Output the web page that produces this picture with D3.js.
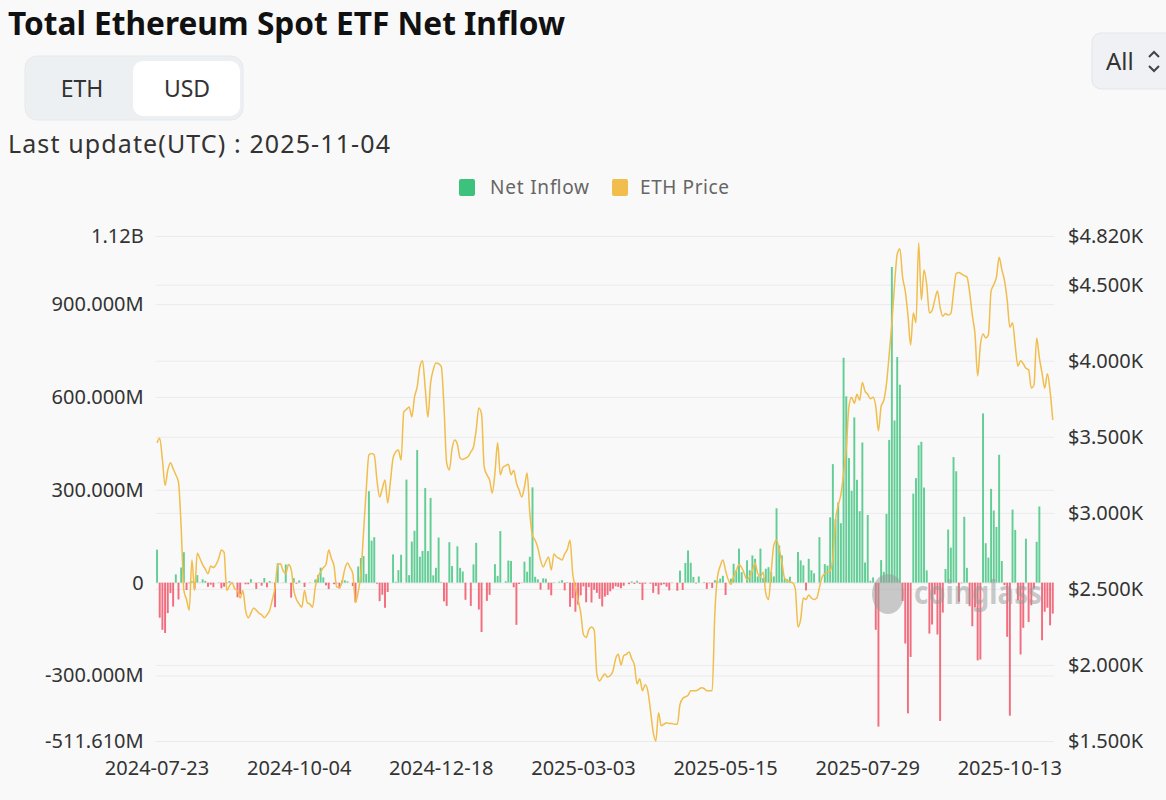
<!DOCTYPE html>
<html>
<head>
<meta charset="utf-8">
<script src="https://cdn.jsdelivr.net/npm/d3@7"></script>
<style>
  body { margin: 0; background: #f9f9f9; }
  svg { display: block; font-family: "Noto Sans", sans-serif; }
</style>
</head>
<body>
<svg width="1166" height="800"></svg>
<script>
  // trading days shown on the axis (weekdays, one day missing in the source)
  const startDate = "2024-07-23";
  const endDate = "2025-11-04";
  const skippedDays = ["2025-09-01"];

  // daily net inflow, million USD
  const inflow2024 = [
    106.6, -113.3, -152.3, -162.7, -98.3, -33.7, -77.2,
    26.7, -54.3, 48.8, 98.4, -23.7, -2.0, 4.8, -19.5, 24.3, -0.7, 10.8, 5.8, -13.5, -6.5, -15.0, 0, -1.2, -18.0, -13.0, -1.8, 5.2, -1.8,
    0, -47.4, -37.5, -0.2, -5.2, -5.2, 11.4, -0.5, -20.1, 1.5, -9.8, 15.1, -15.1, 5.2, -0.9, -79.3, 62.5, 0, 0.8, 58.7, 0,
    -48.5, 14.5, -3.2, 7.4, 0, -14, 0, -1, 0, 10, 24.2, 48.4, 17, -8.8, -20.8, 0, -5, -2, -19, 7.6, 7.6, 4.4, 0,
    -10.9, -63.2, 52.3, 79.7, 85.9, 28.1, 295.5, 135.9, 146.9, -3.2, -59.8, -39.1, -81.2, -30.3, 0, 91.2, 2.8, 40.4, 90.1, 0, 332.9,
    24.2, 132.6, 167.7, 428.5, 83.8, 102.1, 305.7, 102, 273.7, 23.6, 48, 145.7, 2.5, -60.5, -75.1, 130.8, 53.6, 0, 117.2, 47.8, 36.1, -55.4
  ];
  const inflow2025 = [
    0, -75.1, 58.9, 128.7, -86.8, -159.4, 0, -59, -39.4, 0, 59.8, 22, 166.6, 0, 4.8, 71.3, 70, -15, -136.2, -4.3, -1, 67.7, 35.3,
    83.5, 307.8, 18.9, 10.7, -22.7, 14, 12.6, -22.5, -41, 1.6, 0, 3.4, 8, -25, 2, -78, -50, -94, -71, -41,
    -12.1, -63.3, -14.6, -64, -23, -33, -52, -77, -45, -40, -28, -20, -12, -14, -18, -10, 0, -5, 4, -4, 6,
    -3.6, -56, -3, 0, -3, -33, -11, -38, -8, -5, -13, -25, -1, 0, -26, 38.8, -23.6, 63.5, 104.1, 64.1, 18.4, -2.3,
    20, 0, 2, -20, -2, -17, 8, 5, 13, 22, -40, 0, 13, 61, 40, 110, 34, 0, 72, 40, 88, 77,
    20, 110, 15, 45, 50, 34, 20, 240.3, 120, 88, 13, 11, 19, 0, 1, 99, 72, 56, -25, 77, 40,
    30, 0, 147, 0, 60, 55, 211, 383, 205, 259, 192, 726.6, 602, 402.5, 296.6, 533.9, 332.2, 231, 452.8, 65, 218.6, 5.8, 17,
    -152.3, -465.1, 73, 35, 222.3, 461.2, 1020, 523.9, 729.1, 639.6, -59.3, -196.6, -422.2, -240.1, 287.6, 337.7, 443.9, 455, 307.2, 39.7, -164.6,
    -135.3, -38.2, -167.4, -446.8, -96.7, 44.2, 171.5, 113.1, 405.6, 359.7, -61.7, -1.9, 213, 47.8, -76, -140.8, -79.4, -251.2, -248.4, 546.9, 127.5,
    80.9, 303, 233, 180, 413, 70, -8, -175, -430, 236, 170, -57, -232, -146, 142, -127, -73, -19, 132, 246, -186, -94, -81,
    -138, -100
  ];

  // ETH price, USD
  const price2024 = [
    3460, 3490, 3350, 3180, 3280, 3330, 3290,
    3250, 3200, 2900, 2490, 2430, 2360, 2690, 2490, 2735, 2700, 2660, 2630, 2600, 2650, 2640, 2660, 2700, 2755, 2740, 2490, 2520, 2540,
    2500, 2490, 2440, 2490, 2360, 2310, 2340, 2375, 2360, 2340, 2330, 2310, 2330, 2360, 2430, 2510, 2660, 2665, 2620, 2600, 2660,
    2630, 2490, 2430, 2400, 2380, 2490, 2410, 2400, 2380, 2510, 2580, 2610, 2640, 2660, 2755, 2700, 2650, 2510, 2510, 2545, 2630, 2670, 2640,
    2600, 2410, 2480, 2600, 2870, 3150, 3380, 3390, 3380, 3216, 3104, 3160, 3216, 3065, 3200, 3360, 3400, 3413, 3347, 3663, 3680,
    3696, 3630, 3760, 3828, 3960, 4000, 3820, 3630, 3853, 3940, 3985, 3980, 3960, 3696, 3328, 3282, 3420, 3479, 3450, 3360, 3350, 3360
  ];
  const price2025 = [
    3370, 3400, 3433, 3545, 3690, 3650, 3300, 3250, 3216, 3130, 3262, 3460, 3250, 3300, 3310, 3320, 3250, 3280, 3196, 3150, 3104, 3170, 3262,
    3000, 2850, 2820, 2770, 2690, 2644, 2680, 2710, 2624, 2730, 2710, 2700, 2690, 2730, 2760, 2820, 2600, 2512, 2427, 2340,
    2200, 2180, 2230, 2250, 2230, 1940, 1895, 1920, 1940, 1920, 1930, 1960, 2040, 2070, 2000, 2060, 2070, 2085, 2040, 2000, 1875,
    1910, 1830, 1870, 1830, 1700, 1560, 1500, 1685, 1600, 1610, 1620, 1615, 1615, 1610, 1610, 1740, 1780, 1790, 1800, 1830, 1830, 1830,
    1840, 1850, 1845, 1830, 1830, 1830, 2340, 2580, 2650, 2690, 2620, 2560, 2530, 2580, 2620, 2660, 2640, 2600, 2560, 2580, 2620, 2670,
    2600, 2580, 2610, 2470, 2430, 2610, 2789, 2820, 2760, 2677, 2570, 2555, 2545, 2540, 2500, 2250, 2300, 2440, 2430, 2460, 2440,
    2430, 2440, 2510, 2578, 2600, 2610, 2620, 2700, 2953, 3050, 3120, 3255, 3420, 3700, 3760, 3720, 3780, 3740, 3857, 3800, 3780, 3750, 3760,
    3700, 3540, 3700, 3740, 3850, 4040, 4245, 4500, 4700, 4737, 4550, 4458, 4300, 4104, 4314, 4250, 4774, 4400, 4597, 4500, 4314,
    4330, 4400, 4458, 4350, 4293, 4310, 4300, 4310, 4450, 4573, 4580, 4570, 4560, 4550, 4450, 4300, 4176, 3900, 4100, 4176, 4150,
    4170, 4458, 4500, 4550, 4680, 4600, 4527, 4400, 4220, 4250, 4100, 3965, 4000, 3980, 3950, 3940, 3820, 3840, 4150, 4020, 3920, 3820, 3915,
    3800, 3610
  ];

  const xTickLabels = ["2024-07-23", "2024-10-04", "2024-12-18", "2025-03-03", "2025-05-15", "2025-07-29", "2025-10-13"];
  const flowTicks = [-511.61e6, -300e6, 0, 300e6, 600e6, 900e6, 1.12e9];
  const priceTicks = [1500, 2000, 2500, 3000, 3500, 4000, 4500, 4820];

  const green = "#3cc27c", red = "#f04a5f", gold = "#f1bd4c";

  const svg = d3.select("svg");

  const dates = d3.utcDay.range(new Date(startDate), d3.utcDay.offset(new Date(endDate), 1))
      .filter(d => d.getUTCDay() !== 0 && d.getUTCDay() !== 6)
      .map(d3.utcFormat("%Y-%m-%d"))
      .filter(d => !skippedDays.includes(d));

  const inflow = inflow2024.concat(inflow2025);
  const price = price2024.concat(price2025);
  const rows = dates.map((d, i) => ({ date: d, flow: inflow[i] * 1e6, price: price[i] }));

  const plotLeft = 155.7, plotRight = 1054.1, plotTop = 236, plotBottom = 741;

  const x = d3.scaleBand().domain(dates).range([plotLeft, plotRight]);
  const bw = x.bandwidth();
  const yL = d3.scaleLinear().domain([-511.61e6, 1.12e9]).range([plotBottom, plotTop]);
  const yR = d3.scaleLinear().domain([1500, 4820]).range([plotBottom, plotTop]);

  // header
  svg.append("text").attr("x", 8).attr("y", 35)
      .attr("font-size", 32).attr("font-weight", 700).attr("fill", "#111")
      .attr("textLength", 557).attr("lengthAdjust", "spacingAndGlyphs")
      .text("Total Ethereum Spot ETF Net Inflow");

  const toggle = svg.append("g");
  toggle.append("rect").attr("x", 25).attr("y", 56).attr("width", 218).attr("height", 64)
      .attr("rx", 12).attr("fill", "#edf0f3").attr("stroke", "#e6e9ed");
  toggle.append("rect").attr("x", 133).attr("y", 61).attr("width", 107).attr("height", 55)
      .attr("rx", 10).attr("fill", "#fff");
  toggle.append("text").attr("x", 82).attr("y", 97).attr("text-anchor", "middle")
      .attr("font-size", 23).attr("fill", "#333").text("ETH");
  toggle.append("text").attr("x", 187).attr("y", 97).attr("text-anchor", "middle")
      .attr("font-size", 23).attr("fill", "#333").text("USD");

  svg.append("text").attr("x", 8).attr("y", 153)
      .attr("font-size", 25).attr("fill", "#333")
      .attr("textLength", 382)
      .text("Last update(UTC) : 2025-11-04");

  const sel = svg.append("g");
  sel.append("rect").attr("x", 1092).attr("y", 33).attr("width", 90).attr("height", 56)
      .attr("rx", 9).attr("fill", "#eff1f4").attr("stroke", "#e2e5e9");
  sel.append("text").attr("x", 1106).attr("y", 70).attr("font-size", 24).attr("fill", "#333").text("All");
  sel.append("path").attr("d", "M1149,57 L1154,52 L1159,57 M1149,66 L1154,71 L1159,66")
      .attr("fill", "none").attr("stroke", "#444").attr("stroke-width", 2);

  // legend
  const legend = svg.append("g").attr("font-size", 19).attr("fill", "#666");
  legend.append("rect").attr("x", 459).attr("y", 179).attr("width", 16).attr("height", 17).attr("rx", 2).attr("fill", green);
  legend.append("text").attr("x", 490).attr("y", 194).attr("textLength", 99).text("Net Inflow");
  legend.append("rect").attr("x", 612).attr("y", 179).attr("width", 16).attr("height", 17).attr("rx", 2).attr("fill", gold);
  legend.append("text").attr("x", 640).attr("y", 194).attr("textLength", 89).text("ETH Price");

  // grid lines for both value axes
  svg.append("g")
      .attr("transform", `translate(${plotLeft},0)`)
      .call(d3.axisLeft(yL).tickValues(flowTicks).tickSize(-(plotRight - plotLeft)).tickFormat(""))
      .call(g => g.select(".domain").remove())
      .call(g => g.selectAll("line").attr("stroke", "#ebebeb"));
  svg.append("g")
      .attr("transform", `translate(${plotLeft},0)`)
      .call(d3.axisLeft(yR).tickValues(priceTicks).tickSize(-(plotRight - plotLeft)).tickFormat(""))
      .call(g => g.select(".domain").remove())
      .call(g => g.selectAll("line").attr("stroke", "#ebebeb"));

  // bars
  const barW = bw * 0.72;
  svg.append("g")
      .selectAll("rect")
      .data(rows)
      .join("rect")
      .attr("x", d => x(d.date) + (bw - barW) / 2)
      .attr("width", barW)
      .attr("y", d => Math.min(yL(d.flow), yL(0)))
      .attr("height", d => Math.abs(yL(d.flow) - yL(0)))
      .attr("fill", d => d.flow >= 0 ? green : red)
      .attr("opacity", 0.8);

  // watermark
  const wm = svg.append("g").attr("opacity", 0.5);
  wm.append("ellipse").attr("cx", 888).attr("cy", 594).attr("rx", 16).attr("ry", 20).attr("fill", "#999");
  wm.append("text").attr("x", 914).attr("y", 604).attr("font-size", 32).attr("font-weight", 700)
      .attr("fill", "#999").attr("textLength", 128).attr("lengthAdjust", "spacingAndGlyphs").text("coinglass");

  // price line
  svg.append("path")
      .datum(rows)
      .attr("fill", "none")
      .attr("stroke", gold)
      .attr("stroke-width", 1.5)
      .attr("d", d3.line()
          .x(d => x(d.date) + bw / 2)
          .y(d => yR(d.price))
          .curve(d3.curveMonotoneX));

  // axes
  const fmtFlow = v => v === 0 ? "0" : Math.abs(v) >= 1e9 ? (v / 1e9) + "B" : (v / 1e6).toFixed(3) + "M";
  const fmtPrice = v => "$" + (v / 1000).toFixed(3) + "K";

  svg.append("g")
      .attr("transform", `translate(${plotLeft},0)`)
      .call(d3.axisLeft(yL).tickValues(flowTicks).tickFormat(fmtFlow).tickSize(0).tickPadding(12))
      .call(g => g.select(".domain").remove())
      .call(g => g.selectAll("text").attr("font-size", 20).attr("fill", "#333").attr("font-family", "Noto Sans"));

  svg.append("g")
      .attr("transform", `translate(${plotRight},0)`)
      .call(d3.axisRight(yR).tickValues(priceTicks).tickFormat(fmtPrice).tickSize(0).tickPadding(14))
      .call(g => g.select(".domain").remove())
      .call(g => g.selectAll("text").attr("font-size", 20).attr("fill", "#333").attr("font-family", "Noto Sans"));

  svg.append("g")
      .attr("transform", `translate(0,${plotBottom})`)
      .call(d3.axisBottom(x).tickValues(xTickLabels).tickSize(0).tickPadding(20))
      .call(g => g.select(".domain").remove())
      .call(g => g.selectAll("text").attr("font-size", 20).attr("fill", "#333").attr("font-family", "Noto Sans"));
</script>
</body>
</html>
